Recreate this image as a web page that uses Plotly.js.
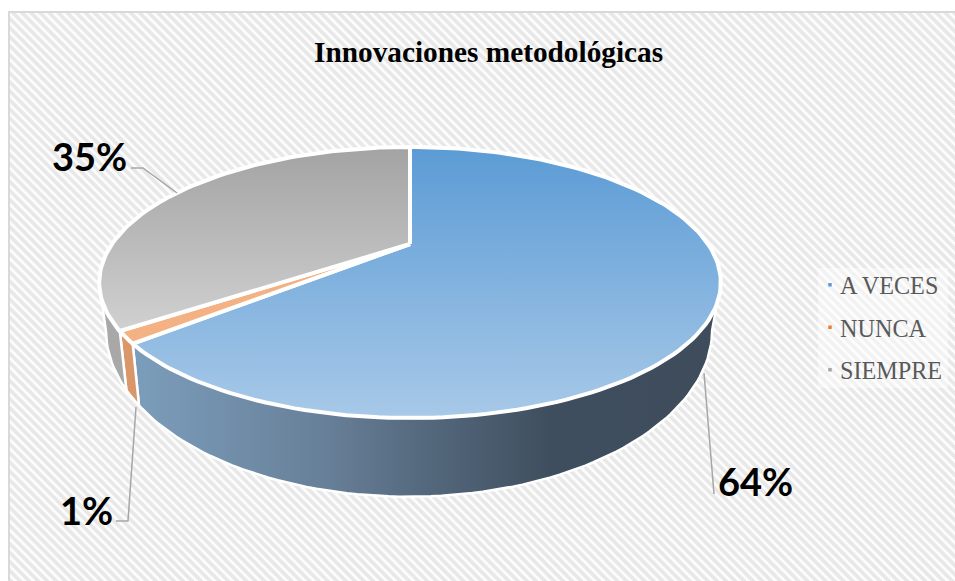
<!DOCTYPE html>
<html><head><meta charset="utf-8">
<script src="https://cdn.plot.ly/plotly-3.0.1.min.js"></script>
<style>
html,body{margin:0;padding:0;background:#fff;}
#frame{position:absolute;left:9px;top:12px;width:946px;height:569px;
 background:repeating-linear-gradient(45deg,#e8e8e8 0,#e8e8e8 2.8px,#fcfcfc 3.6px,#fcfcfc 5.6px,#e8e8e8 6.4px);}
#chart{position:absolute;left:0;top:0;width:955px;height:581px;}
</style></head><body>
<div id="frame"></div><div id="chart"></div>
<script>
const titleText = 'Innovaciones metodológicas';
const categories = ['A VECES','NUNCA','SIEMPRE'];
const values = [63.7,1.4,34.9];
const topStart = ['#5B9BD5','#F4B183','#A3A3A3'];
const topEnd = ['#A8C9E8','#F4B183','#E6E6E6'];
const legendColors = ['#5B9BD5','#ED7D31','#A5A5A5'];
const wallScales = [
  [[0,'#7FA3C2'],[0.36,'#688099'],[0.51,'#566B80'],[0.73,'#3F4E5E'],[1,'#3E4C5C']],
  [[0,'#D9976A'],[1,'#D9976A']],
  [[0,'#A8A8A8'],[1,'#A8A8A8']]
];
const labelPos = [[755.5,481],[86,510],[89.5,156]];
const leaders = [
  {x:[704,714],y:[373,494]},
  {x:[136,128,116],y:[407,521,521]},
  {x:[131,143,177],y:[168,168,193]}
];

// Perspective projection of the pie's rim (fraction f clockwise from 12 o'clock)
const topRim = {cx:410,cy:244,C:298,B:124.6,k:0.284};
const lowRim = {cx:409,cy:283,C:291,B:153.9,k:0.28};
function proj(r,f){
  const a=2*Math.PI*f,u=Math.sin(a),v=Math.cos(a),w=1+r.k*v;
  return [r.cx+r.C*u/w, r.cy-r.B*v/w];
}
function arc(r,f0,f1){
  const n=Math.max(2,Math.ceil(Math.abs(f1-f0)*240)),p=[];
  for(let i=0;i<=n;i++)p.push(proj(r,f0+(f1-f0)*i/n));
  return p;
}
const total=values.reduce((a,b)=>a+b,0);
let acc=0;
const ranges=values.map(v=>{const s=[acc/total,(acc+v)/total];acc+=v;return s;});
const rightSil=Math.acos(-topRim.k)/(2*Math.PI), leftSil=1-rightSil;

const traces=[];
// walls
ranges.forEach((rg,i)=>{
  const f0=Math.max(rg[0],rightSil),f1=Math.min(rg[1],leftSil);
  if(f1<=f0)return;
  const pts=arc(topRim,f0,f1).concat(arc(lowRim,f1,f0));
  pts.push(pts[0]);
  traces.push({type:'scatter',mode:'lines',x:pts.map(p=>p[0]),y:pts.map(p=>p[1]),fill:'toself',
    line:{color:'#ffffff',width:2.5},hoverinfo:'skip',showlegend:false,
    fillgradient:{type:'horizontal',start:98,stop:720,colorscale:wallScales[i]}});
});
// top slices
ranges.forEach((rg,i)=>{
  const pts=[[topRim.cx,topRim.cy]].concat(arc(topRim,rg[0],rg[1]));
  pts.push(pts[0]);
  traces.push({type:'scatter',mode:'lines',x:pts.map(p=>p[0]),y:pts.map(p=>p[1]),fill:'toself',
    line:{color:'#ffffff',width:4},hoverinfo:'skip',showlegend:false,
    fillgradient:{type:'vertical',start:147,stop:418,
      colorscale:[[0,topStart[i]],[1,topEnd[i]]]}});
});
// leaders
leaders.forEach(l=>traces.push({type:'scatter',mode:'lines',x:l.x,y:l.y,
  line:{color:'#A6A6A6',width:1.5},hoverinfo:'skip',showlegend:false}));
// legend entries
categories.forEach((c,i)=>traces.push({type:'scatter',mode:'markers',x:[null],y:[null],name:c,
  legendgroup:c,marker:{symbol:'square',size:3.5,color:legendColors[i]}}));

const layout={
  width:955,height:581,margin:{l:0,r:0,t:0,b:0},
  paper_bgcolor:'rgba(0,0,0,0)',plot_bgcolor:'rgba(0,0,0,0)',
  xaxis:{range:[0,955],visible:false,fixedrange:true},
  yaxis:{range:[581,0],visible:false,fixedrange:true},
  shapes:[
    {type:'rect',xref:'x',yref:'y',x0:9,y0:12,x1:960,y1:590,
     line:{color:'#D9D9D9',width:2},fillcolor:'rgba(0,0,0,0)',layer:'below'},
    {type:'rect',xref:'x',yref:'y',x0:818,y0:268,x1:948,y1:388,
     line:{width:0},fillcolor:'rgba(255,255,255,0.45)',layer:'below'}
  ],
  annotations:[
    {text:'<b>'+titleText+'</b>',x:488,y:52,xref:'x',yref:'y',showarrow:false,
     font:{family:'Liberation Serif',size:29.3,color:'#000'}}
  ].concat(values.map((v,i)=>({text:'<b>'+Math.round(v)+'%</b>',x:labelPos[i][0],y:labelPos[i][1],
     xref:'x',yref:'y',showarrow:false,font:{family:'Lato',size:38,color:'#000'}}))),
  legend:{x:800/955,y:1-262.5/581,xanchor:'left',yanchor:'top',
    font:{family:'Liberation Serif',size:24.2,color:'#595959'},
    bgcolor:'rgba(0,0,0,0)',borderwidth:0,traceorder:'grouped',tracegroupgap:8,itemwidth:30},
  showlegend:true
};
Plotly.newPlot('chart',traces,layout,{displayModeBar:false,staticPlot:true}).then(gd=>{
  gd.querySelectorAll('.legend .legendpoints').forEach(g=>g.setAttribute('transform','translate(10,0)'));
});
</script></body></html>
